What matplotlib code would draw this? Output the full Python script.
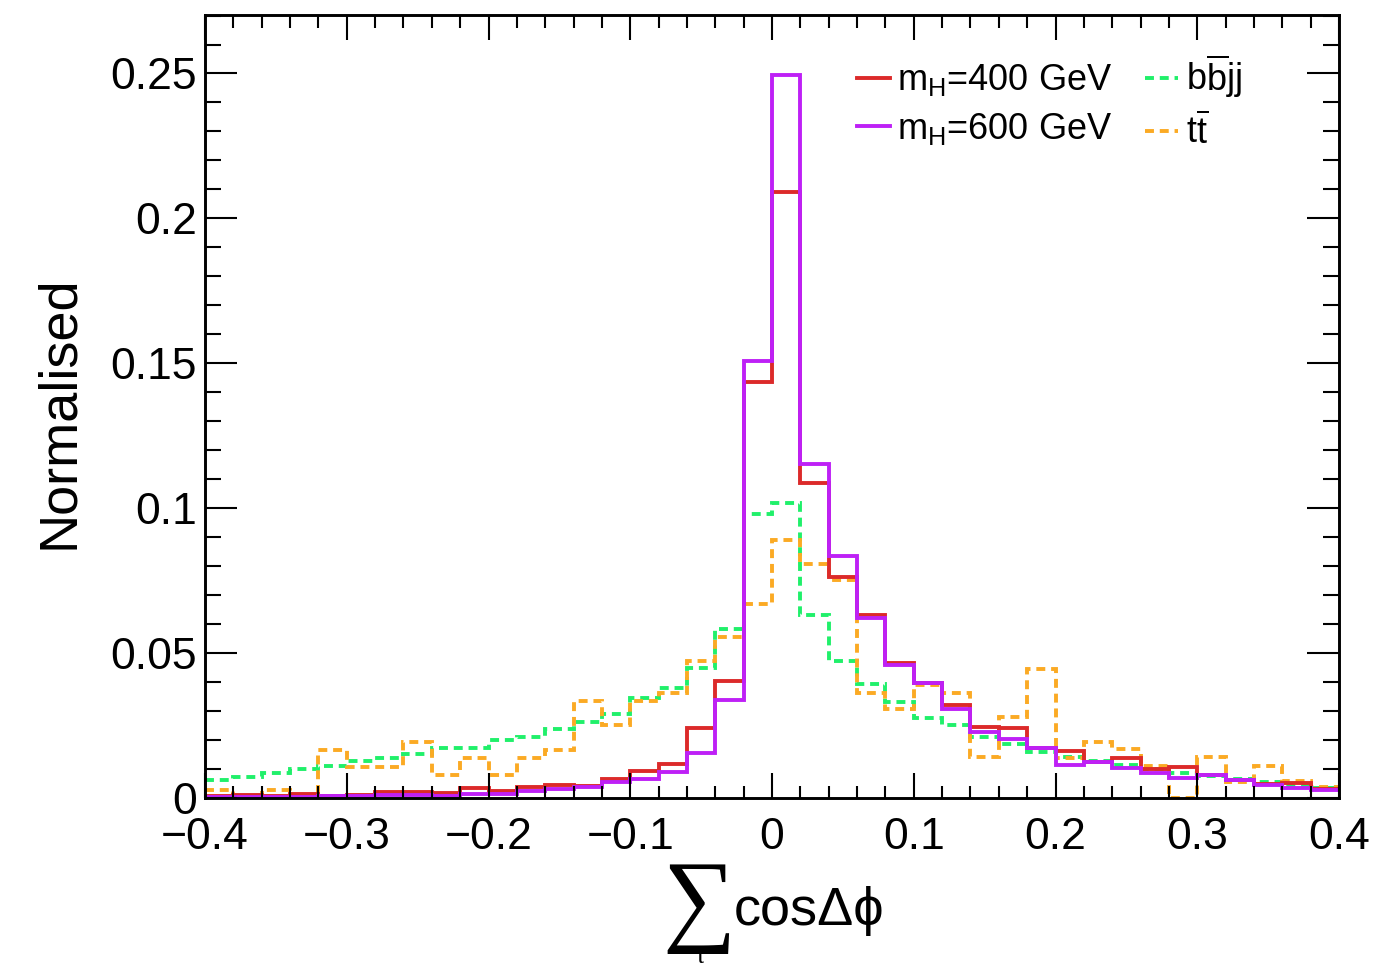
"""Sum cos(dphi) distributions for signal and background, normalised."""

import matplotlib

matplotlib.use("Agg")
import matplotlib.pyplot as plt
import numpy as np
from matplotlib.lines import Line2D
from matplotlib.ticker import FuncFormatter, MultipleLocator

plt.rcParams["font.family"] = ["Liberation Sans", "DejaVu Sans"]
plt.rcParams["mathtext.fontset"] = "custom"
plt.rcParams["mathtext.rm"] = "Liberation Sans"
plt.rcParams["mathtext.it"] = "Liberation Sans:italic"

# 40 bins of width 0.02 between -0.4 and 0.4
bin_edges = np.round(np.arange(-0.4, 0.4001, 0.02), 2)

mh400 = [0.0005, 0.0007, 0.0005, 0.0013, 0.0006, 0.0007, 0.0018, 0.0018, 0.0015, 0.0032,
         0.0022, 0.0036, 0.0043, 0.0040, 0.0064, 0.0093, 0.0116, 0.0241, 0.0403, 0.1434,
         0.2092, 0.1087, 0.0760, 0.0630, 0.0463, 0.0396, 0.0320, 0.0244, 0.0239, 0.0172,
         0.0160, 0.0121, 0.0135, 0.0097, 0.0106, 0.0078, 0.0060, 0.0047, 0.0051, 0.0028]

mh600 = [0.0002, 0.0003, 0.0002, 0.0003, 0.0005, 0.0005, 0.0009, 0.0009, 0.0005, 0.0013,
         0.0013, 0.0022, 0.0028, 0.0035, 0.0052, 0.0064, 0.0089, 0.0152, 0.0337, 0.1508,
         0.2495, 0.1151, 0.0834, 0.0619, 0.0458, 0.0394, 0.0306, 0.0227, 0.0202, 0.0172,
         0.0112, 0.0121, 0.0101, 0.0086, 0.0066, 0.0078, 0.0060, 0.0043, 0.0032, 0.0026]

bbjj = [0.0059, 0.0070, 0.0084, 0.0098, 0.0110, 0.0125, 0.0137, 0.0151, 0.0172, 0.0172,
        0.0197, 0.0210, 0.0235, 0.0260, 0.0290, 0.0342, 0.0377, 0.0448, 0.0582, 0.0979,
        0.1018, 0.0630, 0.0471, 0.0392, 0.0330, 0.0273, 0.0250, 0.0208, 0.0184, 0.0158,
        0.0139, 0.0127, 0.0112, 0.0097, 0.0084, 0.0074, 0.0064, 0.0052, 0.0043, 0.0034]

ttbar = [0.0027, 0.0005, 0.0027, 0.0005, 0.0165, 0.0107, 0.0107, 0.0190, 0.0079, 0.0137,
         0.0079, 0.0137, 0.0164, 0.0334, 0.0249, 0.0334, 0.0360, 0.0472, 0.0555, 0.0667,
         0.0889, 0.0805, 0.0751, 0.0362, 0.0305, 0.0388, 0.0362, 0.0139, 0.0277, 0.0444,
         0.0137, 0.0193, 0.0166, 0.0109, 0.0000, 0.0139, 0.0052, 0.0110, 0.0057, 0.0035]

labels = ["m$_{\\rm H}$=400 GeV", "m$_{\\rm H}$=600 GeV",
          "b$\\overline{\\rm b}$jj", "t$\\overline{\\rm t}$"]
colors = ["#DC2A2A", "#BE20F6", "#20F06A", "#FBAA24"]

fig = plt.figure(figsize=(13.79, 9.71), dpi=100)
ax = fig.add_axes([205 / 1379, 1 - 797.5 / 971, 1134 / 1379, 782.5 / 971])

lw = 2.8
dash = (0, (2.3, 1.5))
ax.stairs(bbjj, bin_edges, baseline=None, color=colors[2], lw=lw, linestyle=dash)
ax.stairs(ttbar, bin_edges, baseline=None, color=colors[3], lw=lw, linestyle=dash)
ax.stairs(mh400, bin_edges, baseline=None, color=colors[0], lw=lw)
ax.stairs(mh600, bin_edges, baseline=None, color=colors[1], lw=lw)

ax.set_xlim(-0.4, 0.4)
ax.set_ylim(0, 0.2702)

ax.xaxis.set_major_locator(MultipleLocator(0.1))
ax.xaxis.set_minor_locator(MultipleLocator(0.02))
ax.yaxis.set_major_locator(MultipleLocator(0.05))
ax.yaxis.set_minor_locator(MultipleLocator(0.01))


def tick_fmt(v, _pos):
    s = f"{round(v, 3):g}"
    return s.replace("-", "\u2212")


ax.xaxis.set_major_formatter(FuncFormatter(tick_fmt))
ax.yaxis.set_major_formatter(FuncFormatter(tick_fmt))

for s in ax.spines.values():
    s.set_linewidth(2.1)
ax.tick_params(which="both", direction="in", top=True, right=True, width=1.5, labelsize=32)
ax.tick_params(axis="x", which="major", length=18, pad=14)
ax.tick_params(axis="x", which="minor", length=9)
ax.tick_params(axis="y", which="major", length=23, pad=6)
ax.tick_params(axis="y", which="minor", length=11.5)

ax.set_ylabel("Normalised", fontsize=39)
ax.yaxis.set_label_coords(-0.107, 0.4927)

# x label: big summation sign followed by cos(dphi)
fig.text(699 / 1379, 1 - 907 / 971, "\u2211", fontsize=74, ha="center", va="center",
         family=["Liberation Serif", "DejaVu Serif"])
fig.text(700 / 1379, 1 - 957 / 971, "\u03b9", fontsize=19, ha="center", va="center",
         family=["Liberation Serif", "DejaVu Serif"])
fig.text(734 / 1379, 1 - 925 / 971, "cos\u0394\u03d5", fontsize=39, ha="left", va="baseline",
         family=["Liberation Sans", "DejaVu Sans"])

handles = [
    Line2D([], [], color=colors[0], lw=lw),
    Line2D([], [], color=colors[1], lw=lw),
    Line2D([], [], color=colors[2], lw=lw, linestyle=dash),
    Line2D([], [], color=colors[3], lw=lw, linestyle=dash),
]
ax.legend(handles, labels, ncol=2, loc="upper left", bbox_to_anchor=(0.575, 0.952),
          frameon=False, fontsize=26, handlelength=0.92, handletextpad=0.2,
          columnspacing=0.9, borderpad=0, borderaxespad=0, labelspacing=0.35)

fig.savefig("out.png", dpi=100)
